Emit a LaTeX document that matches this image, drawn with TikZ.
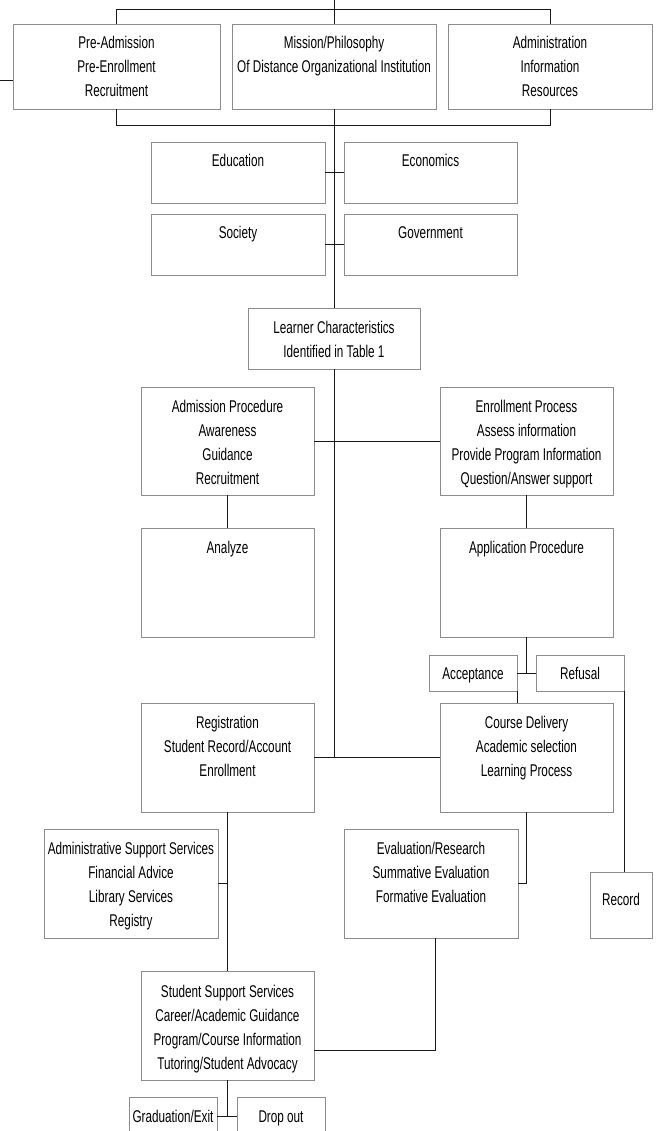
\documentclass[tikz,border=0pt]{standalone}
\usepackage{fontspec}
\setmainfont{Liberation Sans}[FakeStretch=0.69]
% box text: width, height, first-baseline offset, lines separated by \\
\newcommand\boxtext[4]{\parbox[t][#2][t]{#1}{\centering\rule{0pt}{#3}\begin{tabular}[t]{@{}c@{}}#4\end{tabular}}}
\definecolor{boxgray}{HTML}{8C8C8C}
\begin{document}
\begin{tikzpicture}[x=1pt,y=-1pt,
  box/.style={draw=boxgray, line width=0.8pt, inner sep=0pt, outer sep=0pt,
    anchor=north west, font=\fontsize{17}{24}\selectfont},
  conn/.style={draw=black!90, line width=0.9pt}]
\useasboundingbox (0,0) rectangle (664,1131);
\fill[white] (0,0) rectangle (664,1131);
\clip (0,0) rectangle (664,1131);

% top row
\node[box] (PA) at (13,24) {\boxtext{207pt}{85pt}{25pt}{Pre-Admission\\Pre-Enrollment\\Recruitment}};
\node[box] (MI) at (232,24) {\boxtext{204pt}{85pt}{25pt}{Mission/Philosophy\\Of Distance Organizational Institution}};
\node[box] (AD) at (448,24) {\boxtext{204pt}{85pt}{25pt}{Administration\\Information\\Resources}};

% context boxes
\node[box] (ED) at (151,142) {\boxtext{174pt}{61pt}{25pt}{Education}};
\node[box] (EC) at (344,142) {\boxtext{173pt}{61pt}{25pt}{Economics}};
\node[box] (SO) at (151,214) {\boxtext{174pt}{61pt}{25pt}{Society}};
\node[box] (GO) at (344,214) {\boxtext{173pt}{61pt}{25pt}{Government}};

\node[box] (LC) at (248,308) {\boxtext{172pt}{61pt}{25pt}{Learner Characteristics\\Identified in Table 1}};

\node[box] (AP) at (141,387) {\boxtext{173pt}{108pt}{25pt}{Admission Procedure\\Awareness\\Guidance\\Recruitment}};
\node[box] (EP) at (440,387) {\boxtext{173pt}{108pt}{25pt}{Enrollment Process\\Assess information\\Provide Program Information\\Question/Answer support}};

\node[box] (AN) at (141,528) {\boxtext{173pt}{109pt}{25pt}{Analyze}};
\node[box] (APP) at (440,528) {\boxtext{173pt}{109pt}{25pt}{Application Procedure}};

\node[box] (ACC) at (429,655) {\boxtext{88pt}{36pt}{24pt}{Acceptance}};
\node[box] (REF) at (536,655) {\boxtext{88pt}{36pt}{24pt}{Refusal}};

\node[box] (REG) at (141,703) {\boxtext{173pt}{109pt}{25pt}{Registration\\Student Record/Account\\Enrollment}};
\node[box] (CD) at (440,703) {\boxtext{173pt}{109pt}{25pt}{Course Delivery\\Academic selection\\Learning Process}};

\node[box] (AS) at (44,829) {\boxtext{174pt}{109pt}{25pt}{Administrative Support Services\\Financial Advice\\Library Services\\Registry}};
\node[box] (EV) at (344,829) {\boxtext{174pt}{109pt}{25pt}{Evaluation/Research\\Summative Evaluation\\Formative Evaluation}};
\node[box] (REC) at (590,872) {\boxtext{62pt}{66pt}{33pt}{Record}};

\node[box] (SS) at (141,971) {\boxtext{173pt}{109pt}{26pt}{Student Support Services\\Career/Academic Guidance\\Program/Course Information\\Tutoring/Student Advocacy}};

\node[box] (GR) at (129,1097) {\boxtext{88pt}{38pt}{25pt}{Graduation/Exit}};
\node[box] (DR) at (237,1097) {\boxtext{88pt}{38pt}{25pt}{Drop out}};

% connectors
\coordinate (ttop) at (334,0);
\coordinate (stub) at (0,80);
\draw[conn] (MI.north) -- (ttop);
\draw[conn] (PA.north) -- ++(0,-15) -| (AD.north);
\draw[conn] (PA.south) -- ++(0,16) -| (AD.south);
\draw[conn] (PA.west |- stub) -- (stub);
\draw[conn] (MI.south) -- (LC.north);
\draw[conn] (ED.east) -- (EC.west);
\draw[conn] (SO.east) -- (GO.west);
\draw[conn] (LC.south) -- (LC.south |- REG.east);
\draw[conn] (AP.east) -- (EP.west);
\draw[conn] (AP.south) -- (AN.north);
\draw[conn] (EP.south) -- (APP.north);
\draw[conn] (APP.south) -- (APP.south |- ACC.east);
\draw[conn] (ACC.east) -- (REF.west);
\draw[conn] (ACC.south east) -- (ACC.south east |- CD.north);
\draw[conn] (REF.south east) -- (REF.south east |- REC.north);
\draw[conn] (REG.east) -- (CD.west);
\draw[conn] (REG.south) -- (SS.north);
\draw[conn] (AS.east) -- (AS.east -| REG.south);
\draw[conn] (CD.south) |- (EV.east);
\draw[conn] ([xshift=4pt]EV.south) |- ([yshift=30pt]SS.south east);
\draw[conn] (SS.south) -- (SS.south |- GR.east);
\draw[conn] (GR.east) -- (DR.west);
\end{tikzpicture}
\end{document}
